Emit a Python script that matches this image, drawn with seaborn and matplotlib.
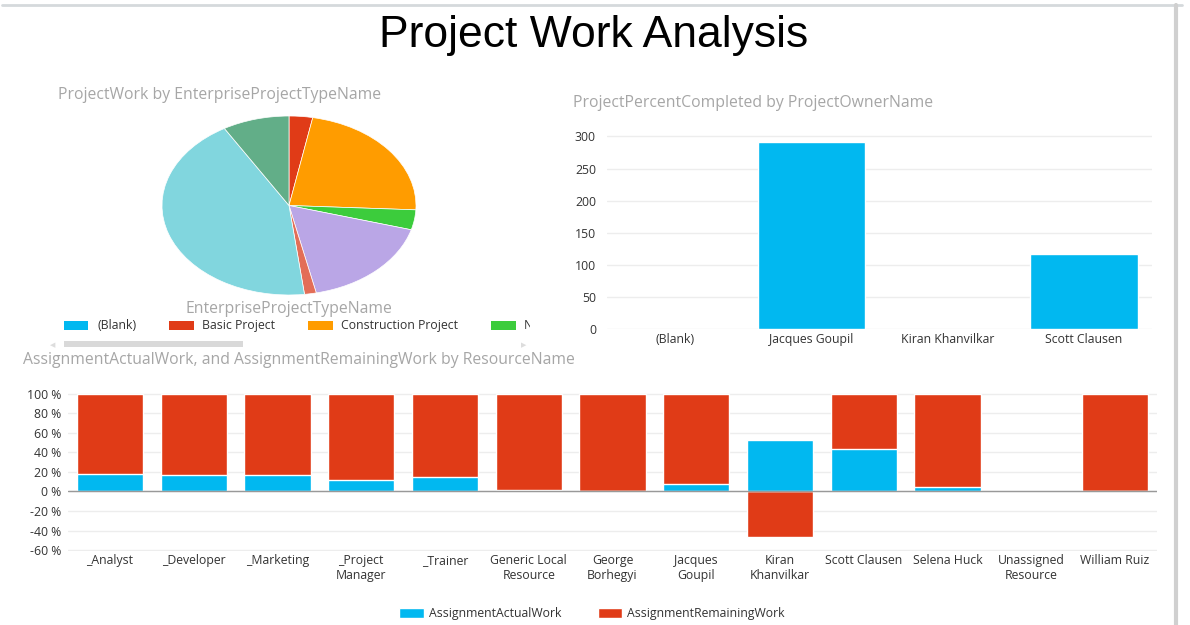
import matplotlib
matplotlib.use("Agg")
import matplotlib.pyplot as plt
import seaborn as sns
from matplotlib.lines import Line2D
from matplotlib.patches import Rectangle
from matplotlib.transforms import Bbox, TransformedBbox

# pie: ProjectWork by EnterpriseProjectTypeName (share of work, %)
project_types = ["(Blank)", "Basic Project", "Construction Project", "New Product",
                 "Office Move", "Process Improvement", "Product Launch", "Sample Project"]
project_work = [0, 3.0, 22.8, 3.6, 17.2, 1.5, 43.5, 8.5]
type_colors = ["#01B8F0", "#E03B17", "#FF9C00", "#3CCC3C",
               "#BAA6E6", "#E36E57", "#81D6DE", "#62AE88"]

# top right: ProjectPercentCompleted by ProjectOwnerName
owners = ["(Blank)", "Jacques Goupil", "Kiran Khanvilkar", "Scott Clausen"]
percent_completed = [0, 292, 0, 117]

# bottom: 100 % stacked actual / remaining work by ResourceName
resources = ["_Analyst", "_Developer", "_Marketing", "_Project\nManager", "_Trainer",
             "Generic Local\nResource", "George\nBorhegyi", "Jacques\nGoupil",
             "Kiran\nKhanvilkar", "Scott Clausen", "Selena Huck",
             "Unassigned\nResource", "William Ruiz"]
actual_pct = [18.0, 17.0, 17.0, 12.0, 15.3, 1.4, 0, 7.5, 53.0, 43.5, 4.1, 0, 0]
remaining_pct = [82.0, 83.0, 83.0, 88.0, 84.7, 98.6, 100, 92.5, -47.0, 56.5, 95.9, 0, 100]

BLUE = "#01B8F0"
RED = "#E03B17"
SUB = "#A6A6A6"
TICK = "#333333"
GRID = "#EDEDED"
FS_SUB = 11.3
FS_TICK = 8.8

sns.set_style("white")
plt.rcParams["font.family"] = ["Open Sans", "DejaVu Sans"]

W, H = 1190, 625
fig = plt.figure(figsize=(W / 100, H / 100), dpi=100)


def box(x0, y0, x1, y1):
    # pixel box (y from top) -> figure fraction
    return [x0 / W, 1 - y1 / H, (x1 - x0) / W, (y1 - y0) / H]


def fx(x):
    return x / W


def fy(y):
    return 1 - y / H


# frame lines
fig.add_artist(Line2D([fx(2), fx(1182)], [fy(5), fy(5)], color="#D5D9DC", lw=2))
fig.add_artist(Line2D([fx(1176), fx(1176)], [fy(5), 0], color="#D0D0D0", lw=3))

fig.text(fx(594), fy(36), "Project Work Analysis", ha="center", va="center",
         fontsize=32, family="Liberation Sans", color="black")

# ---- pie ----
fig.text(fx(58), fy(95), "ProjectWork by EnterpriseProjectTypeName", ha="left", va="center",
         fontsize=FS_SUB, color=SUB)
ax_pie = fig.add_axes(box(162, 116, 416, 295))
wedges, _ = ax_pie.pie(project_work, colors=type_colors, startangle=90, counterclock=False,
                       wedgeprops=dict(edgecolor="white", linewidth=0.5))
ax_pie.set_aspect("auto")
ax_pie.set_xlim(-1, 1)
ax_pie.set_ylim(-1, 1)

# legend is a scrolled strip: only the first entries fit, the 4th is cut off
fig.text(fx(289), fy(309), "EnterpriseProjectTypeName", ha="center", va="center",
         fontsize=FS_SUB, color=SUB)
shown = 4
leg_labels = project_types[:shown - 1] + [project_types[shown - 1].split()[0]]
leg = fig.legend(wedges[:shown], leg_labels, loc="center left",
                 bbox_to_anchor=(fx(64), fy(326)), ncol=shown, frameon=False,
                 fontsize=FS_TICK, borderpad=0, borderaxespad=0, handlelength=2.0,
                 handleheight=0.75, handletextpad=0.7, columnspacing=2.7, labelcolor=TICK)
clip = TransformedBbox(Bbox([[0, 0], [fx(530), 1]]), fig.transFigure)
for art in list(leg.get_texts()) + list(leg.legend_handles):
    art.set_clip_box(clip)
    art.set_clip_on(True)
    if hasattr(art, "set_linewidth"):
        art.set_linewidth(0)

# scroll bar under the legend
fig.add_artist(Rectangle((fx(64), fy(347)), fx(243) - fx(64), 6 / H,
                         transform=fig.transFigure, color="#D9D9D9", lw=0))
fig.text(fx(53), fy(345), "\u25C0", ha="center", va="center", fontsize=5,
         color="#DDDDDD", family="DejaVu Sans")
fig.text(fx(524), fy(345), "\u25B6", ha="center", va="center", fontsize=5,
         color="#DDDDDD", family="DejaVu Sans")

# ---- bar: percent completed ----
fig.text(fx(573), fy(103), "ProjectPercentCompleted by ProjectOwnerName", ha="left",
         va="center", fontsize=FS_SUB, color=SUB)
ax_bar = fig.add_axes(box(607, 130, 1152, 329))
sns.barplot(x=owners, y=percent_completed, color=BLUE, saturation=1, width=0.79, ax=ax_bar)
ax_bar.set_ylim(0, 310)
ax_bar.set_xlim(-0.5, 3.5)
ax_bar.set_yticks(range(0, 301, 50))
ax_bar.grid(axis="y", color=GRID, lw=1)
ax_bar.set_axisbelow(True)
sns.despine(ax=ax_bar, left=True, bottom=True)
ax_bar.tick_params(axis="both", length=0, labelsize=FS_TICK, labelcolor=TICK)
ax_bar.tick_params(axis="y", pad=8)
ax_bar.tick_params(axis="x", pad=3)
ax_bar.set_xlabel("")
ax_bar.set_ylabel("")

# ---- stacked bar: assignment work ----
fig.text(fx(23), fy(360), "AssignmentActualWork, and AssignmentRemainingWork by ResourceName",
         ha="left", va="center", fontsize=FS_SUB, color=SUB)
ax_st = fig.add_axes(box(68, 390, 1157, 551))
red_top = [a + r if r > 0 else r for a, r in zip(actual_pct, remaining_pct)]
sns.barplot(x=resources, y=red_top, color=RED, saturation=1, width=0.79, ax=ax_st,
            label="AssignmentRemainingWork")
sns.barplot(x=resources, y=actual_pct, color=BLUE, saturation=1, width=0.79, ax=ax_st,
            label="AssignmentActualWork")
ax_st.set_ylim(-61, 104)
ax_st.set_xlim(-0.5, len(resources) - 0.5)
yt = list(range(-60, 101, 20))
ax_st.set_yticks(yt)
ax_st.set_yticklabels([f"{v} %" for v in yt])
ax_st.grid(axis="y", color=GRID, lw=1)
ax_st.set_axisbelow(True)
ax_st.axhline(0, color="#999999", lw=1)
sns.despine(ax=ax_st, left=True, bottom=True)
ax_st.tick_params(axis="both", length=0, labelsize=FS_TICK, labelcolor=TICK)
ax_st.tick_params(axis="y", pad=5)
ax_st.tick_params(axis="x", pad=2)
ax_st.set_xlabel("")
ax_st.set_ylabel("")
if ax_st.get_legend() is not None:
    ax_st.get_legend().remove()

fig.legend(handles=[ax_st.containers[1], ax_st.containers[0]],
           labels=["AssignmentActualWork", "AssignmentRemainingWork"],
           loc="center", bbox_to_anchor=(fx(592), fy(614)), ncol=2, frameon=False,
           fontsize=FS_TICK, handlelength=2.0, handleheight=0.9, handletextpad=0.4,
           columnspacing=3.0, labelcolor=TICK)

fig.savefig("out.png", dpi=100)
